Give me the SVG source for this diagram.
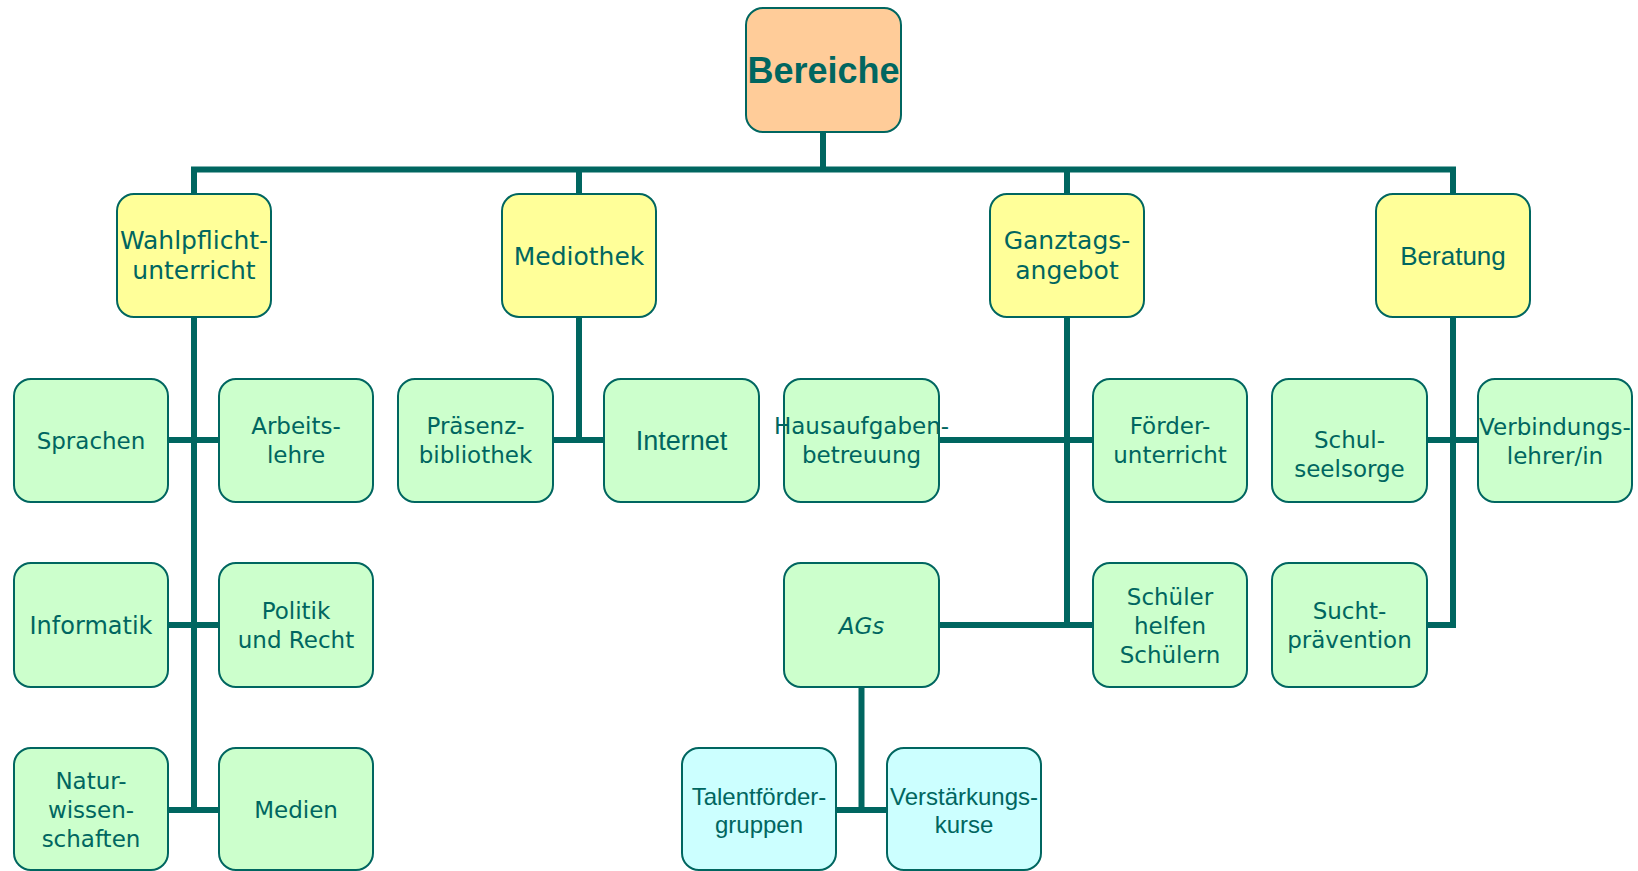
<svg xmlns="http://www.w3.org/2000/svg" width="1638" height="871" viewBox="0 0 1638 871">
<style>
  .box { stroke: #006660; stroke-width: 2; }
  .root { fill: #FFCC99; }
  .l1 { fill: #FFFF99; }
  .l2 { fill: #CCFFCC; }
  .l3 { fill: #CCFFFF; }
  text { fill: #006660; text-anchor: middle; }
  .c { font-family: "DejaVu Sans", "Liberation Sans", sans-serif; font-size: 23px; }
  .h { font-family: "DejaVu Sans", "Liberation Sans", sans-serif; font-size: 25px; }
  .s { font-family: "Liberation Sans", Arial, sans-serif; font-size: 26px; }
  .t { font-family: "Liberation Sans", Arial, sans-serif; font-size: 24px; }
  .b { font-family: "Liberation Sans", Arial, sans-serif; font-size: 36px; font-weight: bold; }
  .conn path { fill: none; stroke: #006660; stroke-width: 6; stroke-linejoin: miter; stroke-linecap: butt; }
</style>
<rect width="1638" height="871" fill="#FFFFFF"/>

<g id="connectors" class="conn">
  <path d="M823 132 V169.5"/>
  <path d="M194 194 V169.5 H1453 V194"/>
  <path d="M579 169.5 V194"/>
  <path d="M1067 169.5 V194"/>
  <path d="M194 317 V813"/>
  <path d="M168 440 H219"/>
  <path d="M168 625 H219"/>
  <path d="M168 810 H219"/>
  <path d="M579 317 V443"/>
  <path d="M553 440 H604"/>
  <path d="M1067 317 V628"/>
  <path d="M939 440 H1093"/>
  <path d="M939 625 H1093"/>
  <path d="M1478 440 H1427"/>
  <path d="M1427 625 H1453 V317"/>
  <path d="M861.5 687 V813"/>
  <path d="M836 810 H887"/>
</g>

<g id="bereiche">
  <rect class="box root" x="746" y="8" width="155" height="124" rx="17"/>
  <text class="b" x="823.5" y="83">Bereiche</text>
</g>

<g id="wahlpflicht">
  <rect class="box l1" x="117" y="194" width="154" height="123" rx="17"/>
  <text class="h" x="194" y="249">Wahlpflicht-</text>
  <text class="h" x="194" y="279">unterricht</text>
</g>
<g id="mediothek">
  <rect class="box l1" x="502" y="194" width="154" height="123" rx="17"/>
  <text class="h" x="579" y="264.5">Mediothek</text>
</g>
<g id="ganztags">
  <rect class="box l1" x="990" y="194" width="154" height="123" rx="17"/>
  <text class="h" x="1067" y="249">Ganztags-</text>
  <text class="h" x="1067" y="279">angebot</text>
</g>
<g id="beratung">
  <rect class="box l1" x="1376" y="194" width="154" height="123" rx="17"/>
  <text class="s" x="1453" y="265">Beratung</text>
</g>

<g id="sprachen">
  <rect class="box l2" x="14" y="379" width="154" height="123" rx="17"/>
  <text class="c" x="91" y="449">Sprachen</text>
</g>
<g id="arbeitslehre">
  <rect class="box l2" x="219" y="379" width="154" height="123" rx="17"/>
  <text class="c" x="296" y="433.5">Arbeits-</text>
  <text class="c" x="296" y="462.5">lehre</text>
</g>
<g id="praesenzbibliothek">
  <rect class="box l2" x="398" y="379" width="155" height="123" rx="17"/>
  <text class="c" x="475.5" y="433.5">Präsenz-</text>
  <text class="c" x="475.5" y="462.5">bibliothek</text>
</g>
<g id="internet">
  <rect class="box l2" x="604" y="379" width="155" height="123" rx="17"/>
  <text class="s" x="681.5" y="449.5" style="font-size:27px">Internet</text>
</g>
<g id="hausaufgaben">
  <rect class="box l2" x="784" y="379" width="155" height="123" rx="17"/>
  <text class="c" x="861.5" y="433.5">Hausaufgaben-</text>
  <text class="c" x="861.5" y="462.5">betreuung</text>
</g>
<g id="foerderunterricht">
  <rect class="box l2" x="1093" y="379" width="154" height="123" rx="17"/>
  <text class="c" x="1170" y="433.5">Förder-</text>
  <text class="c" x="1170" y="462.5">unterricht</text>
</g>
<g id="schulseelsorge">
  <rect class="box l2" x="1272" y="379" width="155" height="123" rx="17"/>
  <text class="c" x="1349.5" y="448">Schul-</text>
  <text class="c" x="1349.5" y="477">seelsorge</text>
</g>
<g id="verbindungslehrer">
  <rect class="box l2" x="1478" y="379" width="154" height="123" rx="17"/>
  <text class="c" x="1555" y="434.5">Verbindungs-</text>
  <text class="c" x="1555" y="463.5">lehrer/in</text>
</g>

<g id="informatik">
  <rect class="box l2" x="14" y="563" width="154" height="124" rx="17"/>
  <text class="c" x="91" y="634" style="font-size:24px">Informatik</text>
</g>
<g id="politik">
  <rect class="box l2" x="219" y="563" width="154" height="124" rx="17"/>
  <text class="c" x="296" y="619">Politik</text>
  <text class="c" x="296" y="648">und Recht</text>
</g>
<g id="ags">
  <rect class="box l2" x="784" y="563" width="155" height="124" rx="17"/>
  <text class="c" x="861.5" y="634" style="font-style:italic">AGs</text>
</g>
<g id="schuelerhelfen">
  <rect class="box l2" x="1093" y="563" width="154" height="124" rx="17"/>
  <text class="c" x="1170" y="605">Schüler</text>
  <text class="c" x="1170" y="634">helfen</text>
  <text class="c" x="1170" y="663">Schülern</text>
</g>
<g id="suchtpraevention">
  <rect class="box l2" x="1272" y="563" width="155" height="124" rx="17"/>
  <text class="c" x="1349.5" y="619">Sucht-</text>
  <text class="c" x="1349.5" y="648">prävention</text>
</g>

<g id="naturwissenschaften">
  <rect class="box l2" x="14" y="748" width="154" height="122" rx="17"/>
  <text class="c" x="91" y="789">Natur-</text>
  <text class="c" x="91" y="818">wissen-</text>
  <text class="c" x="91" y="847">schaften</text>
</g>
<g id="medien">
  <rect class="box l2" x="219" y="748" width="154" height="122" rx="17"/>
  <text class="c" x="296" y="818">Medien</text>
</g>
<g id="talentfoerder">
  <rect class="box l3" x="682" y="748" width="154" height="122" rx="17"/>
  <text class="t" x="759" y="805">Talentförder-</text>
  <text class="t" x="759" y="833">gruppen</text>
</g>
<g id="verstaerkungskurse">
  <rect class="box l3" x="887" y="748" width="154" height="122" rx="17"/>
  <text class="t" x="964" y="805">Verstärkungs-</text>
  <text class="t" x="964" y="833">kurse</text>
</g>
</svg>
